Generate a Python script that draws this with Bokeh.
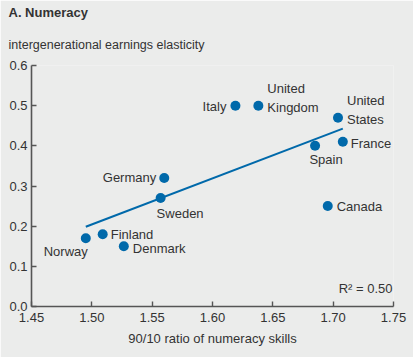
import numpy as np
from bokeh.plotting import figure
from bokeh.models import ColumnDataSource, Label, Range1d, FixedTicker, Title
from bokeh.core.properties import value
from bokeh.embed import file_html
from bokeh.resources import INLINE

# data
countries = ["Norway", "Finland", "Denmark", "Sweden", "Germany", "Italy",
             "United\nKingdom", "United\nStates", "France", "Spain", "Canada"]
ratio_9010 = [1.495, 1.509, 1.5265, 1.557, 1.560, 1.619, 1.638, 1.704, 1.708, 1.685, 1.6955]
elasticity = [0.17, 0.18, 0.15, 0.27, 0.32, 0.50, 0.50, 0.47, 0.41, 0.40, 0.25]
x_ticks = [1.45, 1.50, 1.55, 1.60, 1.65, 1.70, 1.75]
y_ticks = [0.0, 0.1, 0.2, 0.3, 0.4, 0.5, 0.6]
r_squared = "0.50"

# label placement (style)
lab_dx = [2, 8, 9, -4, -8, -9, 9, 9, 8, 11, 9]
lab_dy = [13, 0, 2, 15, 0, 1, -8, -8, 2, 14, 0]
lab_align = ["right", "left", "left", "left", "right", "right", "left", "left", "left", "center", "left"]

BG = "#ebeceb"
BLUE = "#0069aa"
TXT = "#333333"
AX = "#555555"
FONT = "Liberation Sans"

W, H = 413, 357
L, R, T, B = 31, 20, 65, 51
X0, X1, Y0, Y1 = 1.45, 1.75, 0.0, 0.6

def px_x(px):
    return X0 + (px - L) / (W - L - R) * (X1 - X0)

def px_y(py):
    return Y0 + (H - B - py) / (H - T - B) * (Y1 - Y0)

p = figure(width=W, height=H, output_backend="svg", toolbar_location=None,
           x_range=Range1d(X0, X1), y_range=Range1d(Y0, Y1),
           min_border_left=L, min_border_right=R, min_border_top=T, min_border_bottom=B)
p.background_fill_color = BG
p.border_fill_color = BG
p.outline_line_color = None
p.grid.visible = False

for ax in (p.xaxis[0], p.yaxis[0]):
    ax.axis_line_color = AX
    ax.axis_line_width = 1.6
    ax.major_tick_line_color = AX
    ax.major_tick_line_width = 1.4
    ax.major_tick_in = 5
    ax.major_tick_out = 0
    ax.minor_tick_line_color = None
    ax.major_label_text_font = FONT
    ax.major_label_text_font_size = "13px"
    ax.major_label_text_color = TXT
    ax.axis_label_text_font = FONT
    ax.axis_label_text_font_size = "13px"
    ax.axis_label_text_font_style = "normal"
    ax.axis_label_text_color = TXT

p.xaxis.ticker = FixedTicker(ticks=x_ticks)
p.yaxis.ticker = FixedTicker(ticks=y_ticks)
p.xaxis.major_label_overrides = {t: f"{t:.2f}" for t in x_ticks}
p.yaxis.major_label_overrides = {t: f"{t:.1f}" for t in y_ticks}
p.xaxis.major_label_standoff = 6
p.yaxis.major_label_standoff = 4
p.xaxis.axis_label = "90/10 ratio of numeracy skills"
p.xaxis.axis_label_standoff = 6

# regression line
xs = np.array(ratio_9010)
ys = np.array(elasticity)
slope, icpt = np.polyfit(xs, ys, 1)
fx = np.array([xs.min(), xs.max()])
p.line(fx, slope * fx + icpt, line_color=BLUE, line_width=2)

src = ColumnDataSource(dict(x=ratio_9010, y=elasticity, t=countries,
                            dx=lab_dx, dy=lab_dy, al=lab_align))
p.scatter("x", "y", source=src, size=10, fill_color=BLUE, line_color=None)
p.text("x", "y", text="t", source=src, x_offset="dx", y_offset="dy", text_align="al",
       text_baseline="middle", text_font=value(FONT), text_font_size="13px",
       text_color=TXT, text_line_height=1.25)

p.add_layout(Label(x=px_x(392), y=px_y(288), text=f"R\u00b2 = {r_squared}", text_align="right",
                   text_baseline="middle", text_font=FONT, text_font_size="13px",
                   text_color=TXT))

p.title.text = ""
p.title.visible = False
p.add_layout(Title(text="intergenerational earnings elasticity", align="left", offset=-23,
                   text_font=FONT, text_font_size="12.5px", text_font_style="normal",
                   text_color=TXT, standoff=27), "above")
p.add_layout(Title(text="A. Numeracy", align="left", offset=-23,
                   text_font=FONT, text_font_size="13px", text_font_style="bold",
                   text_color=TXT, standoff=5), "above")

open("out.html", "w").write(file_html(p, INLINE))
